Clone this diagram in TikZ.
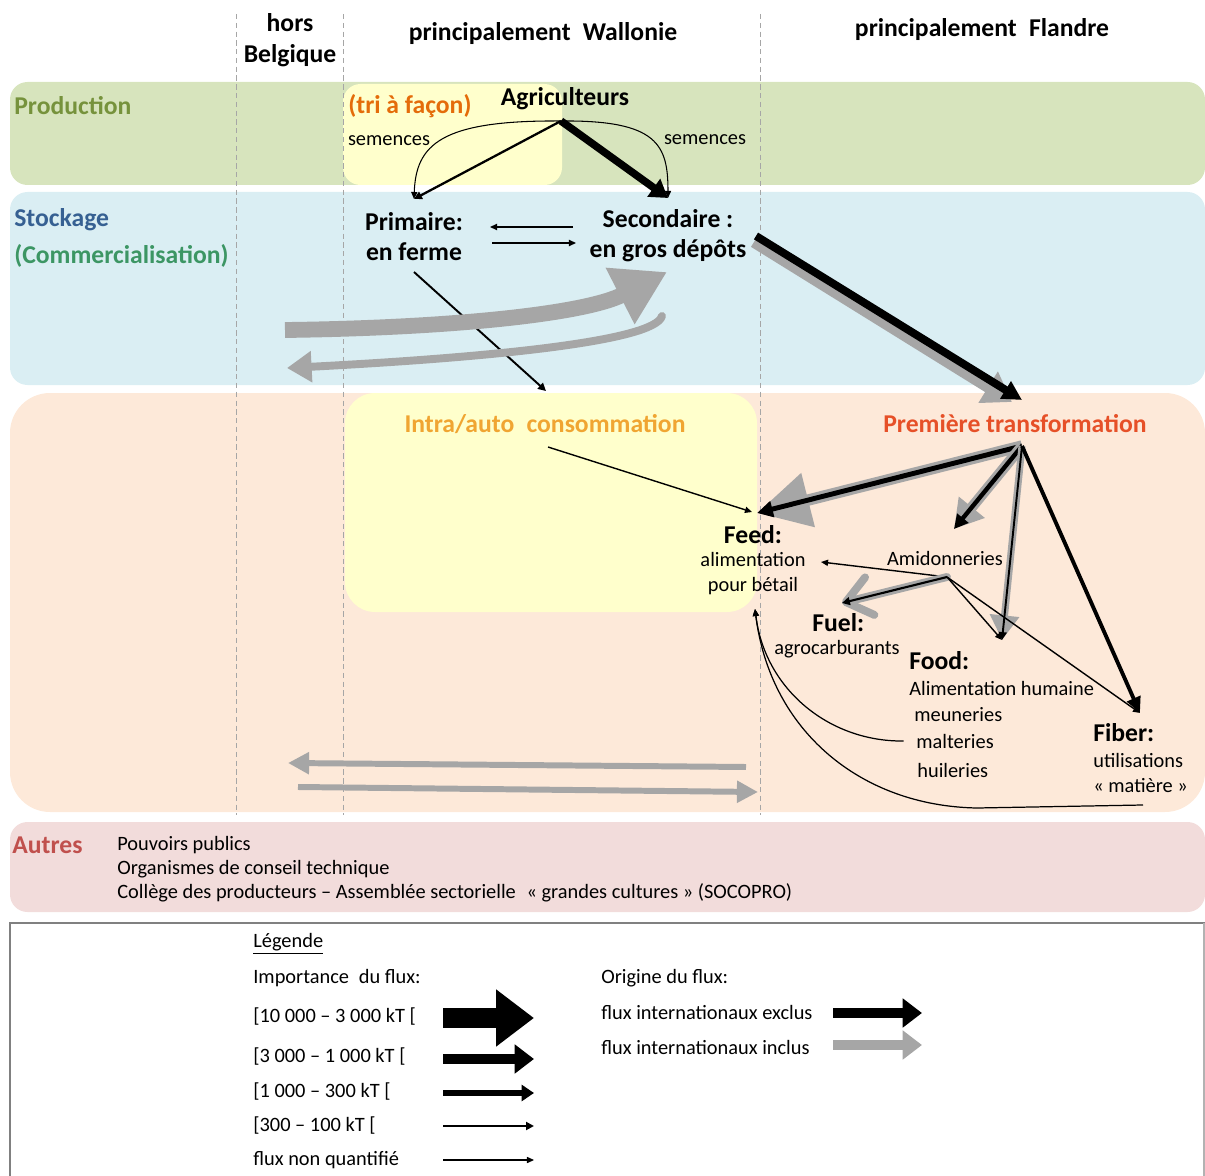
\documentclass[tikz,border=0pt]{standalone}
\usepackage{fontspec}
\setmainfont{Carlito}
\usetikzlibrary{positioning,arrows.meta}

\definecolor{prodgreen}{RGB}{215,228,189}
\definecolor{stockblue}{RGB}{218,238,243}
\definecolor{transpeach}{RGB}{253,233,217}
\definecolor{autrespink}{RGB}{242,220,219}
\definecolor{softyellow}{RGB}{255,255,204}
\definecolor{flowgray}{RGB}{166,166,166}
\definecolor{prodtext}{RGB}{118,146,60}
\definecolor{stocktext}{RGB}{54,96,146}
\definecolor{commtext}{RGB}{60,150,100}
\definecolor{tritext}{RGB}{228,108,10}
\definecolor{intratext}{RGB}{240,165,50}
\definecolor{pttext}{RGB}{230,80,40}
\definecolor{autrestext}{RGB}{192,80,77}

\begin{document}
\begin{tikzpicture}[x=0.02cm, y=-0.02cm,
    bandbox/.style={rounded corners=0.35cm},
    titletxt/.style={font=\fontsize{14.6}{18}\selectfont\bfseries, inner sep=0pt, align=center},
    boldtxt/.style={font=\fontsize{14.6}{17}\selectfont\bfseries, inner sep=0pt, align=center},
    plaintxt/.style={font=\fontsize{11.6}{14.2}\selectfont, inner sep=0pt, align=center},
    legtxt/.style={font=\fontsize{11.6}{14}\selectfont, inner sep=0pt, anchor=west},
    colsep/.style={densely dashed, draw=black!35, line width=0.4pt},
    fluxE/.style={-{Triangle[length=4pt,width=3.5pt]}, line width=0.6pt},
    fluxD/.style={-{Triangle[length=4.5pt,width=4.5pt]}, line width=1.1pt},
    fluxC/.style={-{Triangle[length=7pt,width=9pt]}, line width=3pt},
    fluxB/.style={-{Triangle[length=11pt,width=16pt]}, line width=5.7pt},
    fluxA/.style={-{Triangle[length=21.5pt,width=31pt]}, line width=11.3pt},
    intl/.style={draw=flowgray}
    ]
        \useasboundingbox (0,0) rectangle (1205,1176);

        %Bands
        \fill[prodgreen, bandbox] (10,82) rectangle (1205,185);
        \fill[stockblue, bandbox] (10,192) rectangle (1205,385);
        \fill[transpeach, rounded corners=0.8cm] (10,393) rectangle (1205,812);
        \fill[autrespink, bandbox] (10,822) rectangle (1205,912);
        \fill[softyellow, bandbox] (343,84) rectangle (562,185);
        \fill[softyellow, rounded corners=0.6cm] (345,393) rectangle (757,612);
        \foreach \cx in {236,343,760}
            \draw[colsep] (\cx,14) -- (\cx,815);

        %Legend frame
        \draw[draw=black!50, line width=1.7pt] (10,1176) -- (10,923) -- (1205,923);
        \draw[draw=black!30, line width=0.8pt] (1204,923) -- (1204,1176);

        %Nodes
        \node[titletxt] (hors)     at (290,40) {hors\\Belgique};
        \node[titletxt] (wallonie) at (543,34) {principalement\hspace{0.25em} Wallonie};
        \node[titletxt] (flandre)  at (982,30) {principalement\hspace{0.25em} Flandre};

        \node[boldtxt, prodtext, anchor=west]   (production) at (14,106) {Production};
        \node[boldtxt, stocktext, anchor=west]  (stockage)   at (14,220) {Stockage};
        \node[boldtxt, commtext, anchor=west]   (commerce)   at (14,256) {(Commercialisation)};
        \node[boldtxt, autrestext, anchor=west] (autres)     at (12,845) {Autres};

        \node[boldtxt, tritext, anchor=west] (tri) at (348,106) {(tri à façon)};
        \node[boldtxt] (agri) at (565,99)  {Agriculteurs};
        \node[plaintxt] (semL) at (389,141) {semences};
        \node[plaintxt] (semR) at (705,140) {semences};

        \node[boldtxt] (prim) at (414,237) {Primaire:\\en ferme};
        \node[boldtxt] (sec)  at (668,236) {Secondaire :\\en gros dépôts};

        \node[boldtxt, intratext] (intra) at (545,424) {Intra/auto\hspace{0.25em} consommation};
        \node[boldtxt, pttext]    (pt)    at (1015,424) {Première transformation};

        \node[boldtxt]  (feed)    at (753,535) {Feed:};
        \node[plaintxt] (feedtxt) at (753,574) {alimentation\\pour bétail};
        \node[plaintxt] (amid)    at (945,558) {Amidonneries};
        \node[boldtxt, anchor=west] (fuel) at (812,623) {Fuel:};
        \node[plaintxt] (fueltxt) at (837,649) {agrocarburants};
        \node[boldtxt, anchor=west]  (food)  at (909,661) {Food:};
        \node[plaintxt, anchor=west] (foodA) at (909,688) {Alimentation humaine};
        \node[plaintxt, anchor=west] (meun)  at (914,715) {meuneries};
        \node[plaintxt, anchor=west] (malt)  at (916,741) {malteries};
        \node[plaintxt, anchor=west] (huil)  at (917,770) {huileries};
        \node[boldtxt, anchor=west]  (fiber) at (1093,733) {Fiber:};
        \node[plaintxt, anchor=west] (fibA)  at (1093,760) {utilisations};
        \node[plaintxt, anchor=west] (fibB)  at (1093,786) {« matière »};

        \node[plaintxt, anchor=west] (pouvoirs)   at (117,845) {Pouvoirs publics};
        \node[plaintxt, anchor=west] (organismes) at (117,869) {Organismes de conseil technique};
        \node[plaintxt, anchor=west] (college)    at (117,893) {Collège des producteurs – Assemblée sectorielle\hspace{0.3em} « grandes cultures » (SOCOPRO)};

        \node[legtxt] (legende)    at (253,944)  {\underline{Légende}};
        \node[legtxt] (importance) at (253,978)  {Importance\hspace{0.25em} du flux:};
        \node[legtxt] (classA)     at (253,1017) {[10 000 – 3 000 kT [};
        \node[legtxt] (classB)     at (253,1057) {[3 000 – 1 000 kT [};
        \node[legtxt] (classC)     at (253,1092) {[1 000 – 300 kT [};
        \node[legtxt] (classD)     at (253,1126) {[300 – 100 kT [};
        \node[legtxt] (classE)     at (253,1160) {flux non quantifié};
        \node[legtxt] (origine)    at (601,978)  {Origine du flux:};
        \node[legtxt] (exclus)     at (601,1012) {flux internationaux exclus};
        \node[legtxt] (inclus)     at (601,1047) {flux internationaux inclus};

        %Anchor points
        \coordinate (agriFoot)  at (561,121);
        \coordinate (primTop)   at (414,199);
        \coordinate (secTop)    at (668,198);
        \coordinate (secWa)     at (573,227);
        \coordinate (primEa)    at (490,227);
        \coordinate (primEb)    at (492,243);
        \coordinate (secWb)     at (576,243);
        \coordinate (primFoot)  at (414,272);
        \coordinate (intraTop)  at (546,391);
        \coordinate (horsIn)    at (285,330);
        \coordinate (secFoot)   at (667,272);
        \coordinate (secOut)    at (662,316);
        \coordinate (horsOut)   at (287,368);
        \coordinate (secEast)   at (756,236);
        \coordinate (secEastG)  at (754,242);
        \coordinate (ptTop)     at (1022,400);
        \coordinate (ptTopG)    at (1012,402);
        \coordinate (ptFoot)    at (1022,446);
        \coordinate (feedIn)    at (757,513);
        \coordinate (feedInL)   at (752,512);
        \coordinate (amidIn)    at (954,529);
        \coordinate (foodIn)    at (1002,640);
        \coordinate (fiberIn)   at (1140,713);
        \coordinate (intraFoot) at (548,447);
        \coordinate (amidFoot)  at (947,577);
        \coordinate (feedEast)  at (821,562);
        \coordinate (fuelIn)    at (842,603);
        \coordinate (feedFoot)  at (755,609);
        \coordinate (fiberFoot) at (1143,805);
        \coordinate (fiberBend) at (977,808);
        \coordinate (flaOutA)   at (746,767);
        \coordinate (horsA)     at (288,763);
        \coordinate (horsB)     at (298,787);
        \coordinate (flaInB)    at (758,792);

        %Lines
        \draw[fluxD, line width=1.3pt] (agriFoot) -- (primTop);
        \draw[fluxE] (agriFoot) .. controls (440,120) and (416,145) .. (primTop);
        \draw[fluxE] (agriFoot) .. controls (658,120) and (668,145) .. (secTop);
        \draw[-{Triangle[length=10pt,width=12pt]}, line width=4.3pt] (agriFoot) -- (secTop);

        \draw[fluxE, line width=0.8pt] (secWa) -- (primEa);
        \draw[fluxE, line width=0.8pt] (primEb) -- (secWb);
        \draw[fluxD] (primFoot) -- (intraTop);

        \draw[intl, line width=9pt, -{Triangle[length=30pt,width=34pt]}]
            (horsIn) .. controls (450,328) and (585,314) .. (secFoot);
        \draw[intl, line width=4.5pt, line cap=round, -{Triangle[length=14pt,width=17pt]}]
            (secOut) .. controls (655,342) and (480,358) .. (horsOut);

        \draw[intl, line width=6.5pt, -{Triangle[length=16pt,width=20pt]}] (secEastG) -- (ptTopG);
        \draw[line width=4.5pt, -{Triangle[length=11pt,width=11pt]}] (secEast) -- (ptTop);

        \draw[intl, line width=6.5pt, -{Triangle[length=30pt,width=30pt]}] (ptFoot) -- (feedIn);
        \draw[line width=2.8pt, -{Triangle[length=9pt,width=9pt]}] (ptFoot) -- (feedIn);
        \draw[intl, line width=6pt, -{Triangle[length=16pt,width=18pt]}] (ptFoot) -- (amidIn);
        \draw[line width=2.5pt, -{Triangle[length=8pt,width=8pt]}] (ptFoot) -- (amidIn);
        \draw[intl, line width=4pt, -{Triangle[length=14pt,width=16pt]}] (ptFoot) -- (foodIn);
        \draw[fluxD] (ptFoot) -- (foodIn);
        \draw[line width=2.2pt, -{Triangle[length=9pt,width=8pt]}] (ptFoot) -- (fiberIn);

        \draw[fluxE, line width=0.8pt] (intraFoot) -- (feedInL);

        \draw[fluxE, line width=0.8pt] (amidFoot) -- (feedEast);
        \draw[intl, line width=4.5pt, line cap=round, -{Straight Barb[length=14pt,width=22pt,round]}] (amidFoot) -- (fuelIn);
        \draw[fluxD, line width=1.2pt] (amidFoot) -- (fuelIn);
        \draw[fluxE, line width=0.8pt] (amidFoot) -- (foodIn);
        \draw[fluxE, line width=0.8pt] (amidFoot) -- (fiberIn);

        \draw[fluxE, line width=0.7pt] ([xshift=-7pt]malt.west) .. controls (830,742) and (765,690) .. (feedFoot);
        \draw[fluxE, line width=0.7pt] (fiberFoot) -- (fiberBend) .. controls (860,806) and (770,730) .. (feedFoot);

        \draw[intl, line width=3.4pt, -{Triangle[length=12pt,width=12pt]}] (flaOutA) -- (horsA);
        \draw[intl, line width=3.4pt, -{Triangle[length=12pt,width=12pt]}] (horsB) -- (flaInB);

        %Legend arrows
        \draw[fluxA] (443,1018) -- (534,1018);
        \draw[fluxB] (443,1059) -- (534,1059);
        \draw[fluxC] (443,1093) -- (534,1093);
        \draw[fluxD] (443,1126) -- (534,1126);
        \draw[fluxE] (443,1160) -- (534,1160);
        \draw[fluxB] (833,1013) -- (922,1013);
        \draw[fluxB, intl] (833,1045) -- (922,1045);
\end{tikzpicture}
\end{document}
